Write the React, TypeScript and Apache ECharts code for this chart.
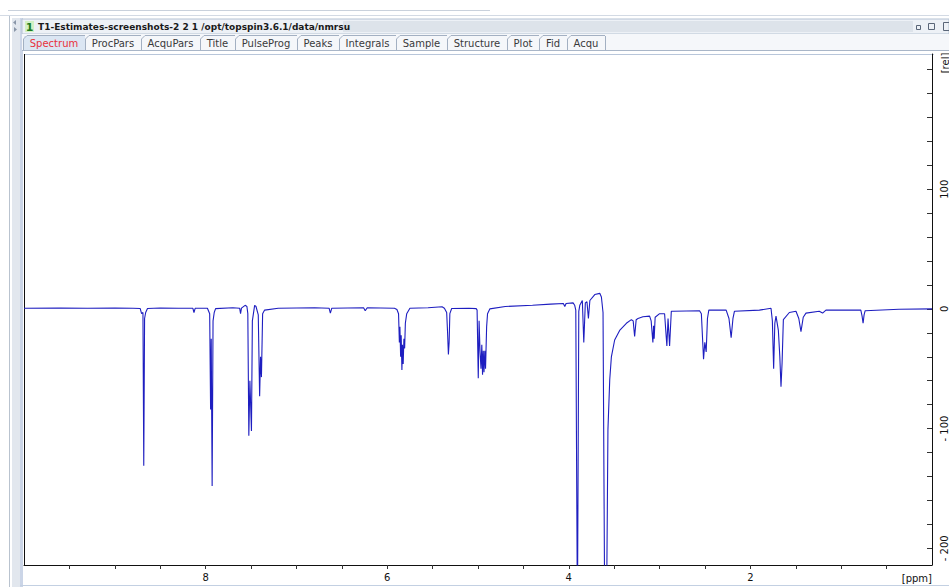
import React, { useEffect, useRef } from "react";
import * as echarts from "echarts";

const W = 949;
const H = 587;
const FONT = "DejaVu Sans";

// Spectrum trace: [chemical shift (ppm), intensity (rel)]
const spectrum: [number, number][] = [
  [10.0, 0.5], [9.6, 0.8], [9.3, 0.6], [9.0, 0.8], [8.8, 0.5], [8.72, 0.3],
  [8.705, -4], [8.69, -3], [8.681, -131], [8.672, -8], [8.66, -3], [8.64, 0.3],
  [8.5, 0.8], [8.3, 0.6], [8.14, 0.5], [8.128, -3], [8.115, 0.5],
  [7.98, 0.6], [7.955, -4], [7.945, -84], [7.938, -25], [7.928, -148], [7.918, -10], [7.905, -3], [7.89, 0.2],
  [7.7, 1], [7.625, 0.6], [7.615, -4], [7.605, 0.6], [7.565, 3], [7.545, 2],
  [7.535, -4], [7.524, -106], [7.512, -60], [7.495, -102], [7.485, -10], [7.46, 3], [7.445, 2],
  [7.42, -5], [7.405, -73], [7.395, -40], [7.385, -57], [7.372, -4], [7.35, -1],
  [7.2, 0.6], [6.8, 1], [6.64, 0.6], [6.626, -3.5], [6.61, 0.6], [6.26, 1], [6.242, -1.5], [6.22, 1],
  [5.92, 0.6], [5.893, -0.5],
  [5.875, -4], [5.866, -28], [5.86, -15], [5.852, -40], [5.846, -22], [5.838, -51], [5.832, -30],
  [5.824, -46], [5.816, -25], [5.808, -33], [5.8, -12], [5.785, -4], [5.75, 0.5],
  [5.55, 1], [5.396, 1.8], [5.37, 0.5], [5.345, -3], [5.335, -20], [5.326, -38], [5.318, -28], [5.31, -4], [5.29, 0.3],
  [5.1, 0.6], [5.02, 0.2], [5.01, -1], [4.997, -58], [4.988, -10], [4.978, -35], [4.967, -50], [4.958, -30],
  [4.95, -55], [4.942, -35], [4.934, -53], [4.925, -35], [4.917, -50], [4.905, -15], [4.895, -4], [4.87, 0],
  [4.7, 2], [4.4, 3], [4.2, 4], [4.06, 4.5], [4.044, 2], [4.03, 4.5], [3.953, 5], [3.935, 3], [3.923, -1],
  [3.905, -260], [3.89, -2], [3.879, 3], [3.851, 7], [3.835, -28], [3.818, 5], [3.8, 6], [3.784, -8], [3.768, 7],
  [3.714, 12], [3.659, 13], [3.641, 10], [3.623, -3], [3.604, -260], [3.585, -260], [3.569, -101], [3.549, -59],
  [3.531, -40], [3.495, -26], [3.44, -18], [3.366, -12], [3.311, -9], [3.291, -10], [3.275, -23], [3.258, -9],
  [3.238, -8], [3.184, -6.5], [3.11, -6], [3.093, -10], [3.074, -28], [3.066, -14], [3.06, -25], [3.049, -7],
  [3.0, -4], [2.945, -4], [2.92, -31], [2.907, -8], [2.89, -31], [2.871, -2], [2.853, -2],
  [2.56, -1.5], [2.54, -4], [2.516, -42], [2.502, -28], [2.487, -36], [2.473, -8], [2.458, -1],
  [2.267, -1], [2.236, -8], [2.212, -24], [2.192, -8], [2.176, -2], [1.901, -1], [1.773, 0.5],
  [1.758, -10], [1.744, -50], [1.731, -12], [1.718, -6], [1.692, -18], [1.676, -40], [1.663, -65], [1.651, -45],
  [1.637, -9], [1.571, -3], [1.498, -2], [1.467, -8], [1.443, -19], [1.418, -7], [1.388, -3.5],
  [1.242, -2], [1.205, -3.5], [1.168, -1], [0.784, -1], [0.77, -6], [0.759, -12], [0.748, -5], [0.736, -1.5],
  [0.363, -0.3], [0.0, 0],
];

const xMin = 0;
const xMax = 10;
const xLabelValues = [2, 4, 6, 8];
const xTickValues = [0.5, 1, 1.5, 2, 2.5, 3, 3.5, 4, 4.5, 5, 5.5, 6, 6.5, 7, 7.5, 8, 8.5, 9, 9.5];
const yMin = -214;
const yMax = 213;
const yLabelValues = [-200, -100, 0, 100];
const yTickValues = [-200, -180, -160, -140, -120, -100, -80, -60, -40, -20, 0, 20, 40, 60, 80, 100, 120, 140, 160, 180, 200];
const xUnit = "[ppm]";
const yUnit = "[rel]";

const tabs = ["Spectrum", "ProcPars", "AcquPars", "Title", "PulseProg", "Peaks", "Integrals", "Sample", "Structure", "Plot", "Fid", "Acqu"];
const windowNumber = "1";
const windowTitle = "T1-Estimates-screenshots-2 2 1 /opt/topspin3.6.1/data/nmrsu";

export default function App() {
  const ref = useRef<HTMLDivElement>(null);

  useEffect(() => {
    if (!ref.current) return;
    const chart = echarts.init(ref.current, null, { renderer: "svg", width: W, height: H });

    const ctx = document.createElement("canvas").getContext("2d")!;
    ctx.font = `10px "${FONT}"`;

    const chrome: any[] = [
      // top strip
      { type: "line", shape: { x1: 8, y1: 10.5, x2: 490, y2: 10.5 }, style: { stroke: "#c9d1dc", lineWidth: 1 } },
      { type: "line", shape: { x1: 0, y1: 15.5, x2: W, y2: 15.5 }, style: { stroke: "#d3dae4", lineWidth: 1 } },
      // left side strip
      { type: "line", shape: { x1: 9.5, y1: 16, x2: 9.5, y2: H }, style: { stroke: "#b9c3cf", lineWidth: 1 } },
      { type: "rect", shape: { x: 12, y: 18, width: 8, height: H - 18 }, style: { fill: "#e2e7ee" } },
      { type: "rect", shape: { x: 20, y: 18, width: 3, height: H - 18 }, style: { fill: "#cbd5e7" } },
      { type: "polygon", shape: { points: [[16, 20], [13, 22.5], [16, 25]] }, style: { fill: "#8a96a8" } },
      { type: "polygon", shape: { points: [[14, 27], [17, 29.5], [14, 32]] }, style: { fill: "#8a96a8" } },
      // title bar
      { type: "rect", shape: { x: 22, y: 19, width: W - 22, height: 15 }, style: { fill: "#edf1f6", stroke: "#b5c2d3", lineWidth: 1 } },
      { type: "rect", shape: { x: 343, y: 21, width: 570, height: 11 }, style: { fill: "#dde3ea" } },
      { type: "rect", shape: { x: 25, y: 21, width: 9, height: 11 }, style: { fill: "#d2f1c4" } },
      { type: "text", x: 29.5, y: 27, style: { text: windowNumber, fill: "#1f7a1f", fontSize: 11, fontWeight: "bold", fontFamily: FONT, align: "center", verticalAlign: "middle" } },
      { type: "text", x: 38, y: 27, style: { text: windowTitle, fill: "#1a1a1a", fontSize: 9, fontWeight: "bold", fontFamily: FONT, align: "left", verticalAlign: "middle" } },
      // window icons
      { type: "rect", shape: { x: 916.5, y: 25.5, width: 4, height: 4 }, style: { fill: "none", stroke: "#5a6678" } },
      { type: "rect", shape: { x: 928.5, y: 23.5, width: 6, height: 6 }, style: { fill: "none", stroke: "#5a6678" } },
      { type: "rect", shape: { x: 943.5, y: 22.5, width: 6, height: 8 }, style: { fill: "none", stroke: "#5a6678" } },
      // tab row
      { type: "rect", shape: { x: 22, y: 34, width: W - 22, height: 16 }, style: { fill: "#f5f7fa" } },
      { type: "line", shape: { x1: 22, y1: 50.5, x2: W, y2: 50.5 }, style: { stroke: "#a9b6c8", lineWidth: 1 } },
      // plot frame
      { type: "line", shape: { x1: 24, y1: 54.5, x2: 934, y2: 54.5 }, style: { stroke: "#b8c6da", lineWidth: 1 } },
      { type: "line", shape: { x1: 24.5, y1: 54, x2: 24.5, y2: 565 }, style: { stroke: "#111", lineWidth: 1 } },
      // bottom border
      { type: "line", shape: { x1: 20, y1: 585.5, x2: W, y2: 585.5 }, style: { stroke: "#c3d0e2", lineWidth: 1 } },
      // axis units
      { type: "text", x: 932, y: 578, style: { text: xUnit, fill: "#111", fontSize: 10, fontFamily: FONT, align: "right", verticalAlign: "middle" } },
      { type: "text", x: 945, y: 63, rotation: Math.PI / 2, style: { text: yUnit, fill: "#111", fontSize: 10, fontFamily: FONT, align: "center", verticalAlign: "middle" } },
    ];

    let tx = 23;
    tabs.forEach((t, i) => {
      const w = Math.round(ctx.measureText(t).width + 13.5);
      if (i === 0) {
        chrome.push({ type: "rect", shape: { x: tx + 1, y: 36, width: w - 1, height: 14 }, style: { fill: "#dbe6f3" } });
      }
      chrome.push({
        type: "polyline",
        shape: { points: [[tx + 0.5, 50], [tx + 0.5, 39], [tx + 4, 35.5], [tx + w, 35.5]] },
        style: { stroke: "#a3b0c2", lineWidth: 1, fill: "none" },
      });
      chrome.push({
        type: "text",
        x: tx + w / 2,
        y: 43.5,
        style: { text: t, fill: i === 0 ? "#e8313b" : "#3a3a3a", fontSize: 10, fontFamily: FONT, align: "center", verticalAlign: "middle" },
      });
      tx += w;
    });
    chrome.push({ type: "line", shape: { x1: tx + 0.5, y1: 36, x2: tx + 0.5, y2: 50 }, style: { stroke: "#a3b0c2", lineWidth: 1 } });

    chart.setOption({
      animation: false,
      backgroundColor: "#ffffff",
      grid: { left: 24, right: 15, top: 54, bottom: 22, containLabel: false },
      xAxis: {
        type: "value",
        min: xMin,
        max: xMax,
        inverse: true,
        axisLine: { show: true, onZero: false, lineStyle: { color: "#111", width: 1 } },
        axisTick: { show: true, customValues: xTickValues, length: 4, lineStyle: { color: "#333" } },
        axisLabel: { show: true, customValues: xLabelValues, margin: 7, fontSize: 10, color: "#111", fontFamily: FONT },
        splitLine: { show: false },
      },
      yAxis: {
        type: "value",
        position: "right",
        min: yMin,
        max: yMax,
        axisLine: { show: true, onZero: false, lineStyle: { color: "#111", width: 1 } },
        axisTick: { show: true, inside: true, customValues: yTickValues, length: 5, lineStyle: { color: "#333" } },
        axisLabel: {
          show: true,
          customValues: yLabelValues,
          rotate: 90,
          margin: 7,
          fontSize: 10,
          color: "#111",
          fontFamily: FONT,
          formatter: (v: number) => (v < 0 ? "- " + Math.abs(v) : String(v)),
        },
        splitLine: { show: false },
      },
      graphic: chrome,
      series: [
        {
          type: "line",
          data: spectrum,
          showSymbol: false,
          symbol: "none",
          clip: true,
          silent: true,
          lineStyle: { color: "#1e1ec0", width: 1.1 },
        },
      ],
    });

    return () => chart.dispose();
  }, []);

  return (
    <div
      ref={ref}
      style={{ position: "absolute", left: 0, top: 0, width: W, height: H, background: "#fff" }}
    />
  );
}
